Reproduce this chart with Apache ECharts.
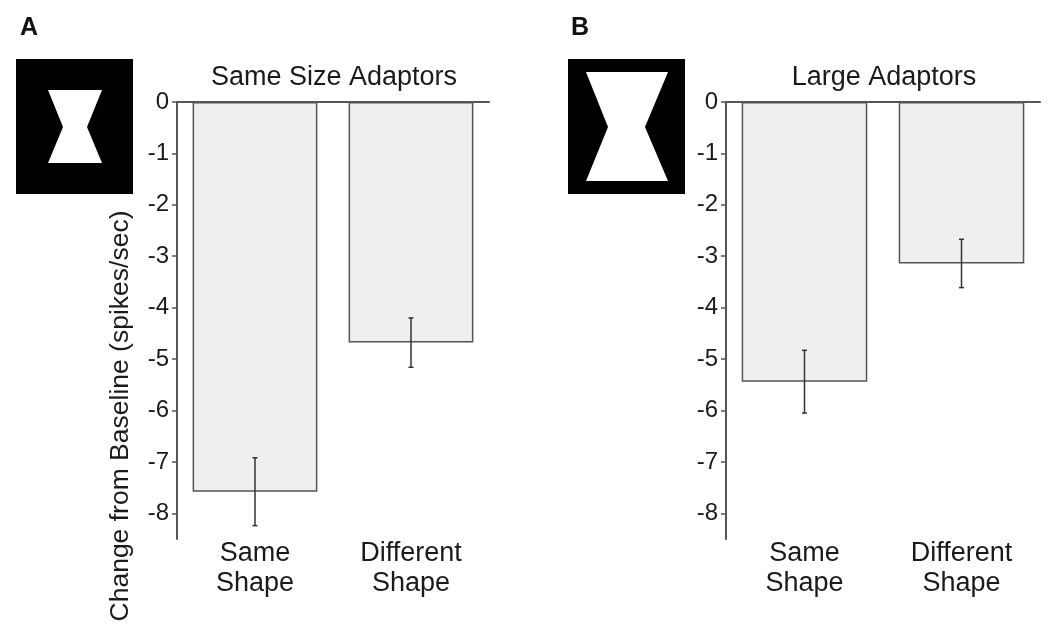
<!DOCTYPE html>
<html>
<head>
<meta charset="utf-8">
<script src="https://cdn.jsdelivr.net/npm/echarts@6/dist/echarts.min.js"></script>
<style>
  html, body { margin: 0; padding: 0; background: #fff; }
  #chart { width: 1050px; height: 633px; }
</style>
</head>
<body>
<div id="chart"></div>
<script>
// data
const categories = ['Same\nShape', 'Different\nShape'];
const panelTitles = ['Same Size Adaptors', 'Large Adaptors'];
const panelLetters = ['A', 'B'];
const sameSizeMeans = [-7.58, -4.68];
const sameSizeSem = [0.66, 0.48];
const largeMeans = [-5.44, -3.14];
const largeSem = [0.61, 0.47];
const yTicks = [0, -1, -2, -3, -4, -5, -6, -7, -8];
const yName = 'Change from Baseline (spikes/sec)';

const FONT = "'Liberation Sans', Arial, sans-serif";
const AXIS_COLOR = '#555';
const TEXT_COLOR = '#1a1a1a';

const grids = [
  { left: 177, top: 102, width: 312, height: 437 },
  { left: 726, top: 102, width: 314, height: 437 }
];

// 误差线
function errorItem(params, api) {
  const x = api.value(0);
  const lo = api.coord([x, api.value(1)]);
  const hi = api.coord([x, api.value(2)]);
  const cap = 2.5;
  const style = { stroke: '#333', lineWidth: 1.5 };
  return {
    type: 'group',
    children: [
      { type: 'line', shape: { x1: lo[0], y1: lo[1], x2: hi[0], y2: hi[1] }, style },
      { type: 'line', shape: { x1: lo[0] - cap, y1: lo[1], x2: lo[0] + cap, y2: lo[1] }, style },
      { type: 'line', shape: { x1: hi[0] - cap, y1: hi[1], x2: hi[0] + cap, y2: hi[1] }, style }
    ]
  };
}

function errData(means, sem) {
  return means.map((m, i) => [i, m - sem[i], m + sem[i]]);
}

const xAxes = [];
const yAxes = [];
const series = [];
const titles = [];
[[sameSizeMeans, sameSizeSem], [largeMeans, largeSem]].forEach(([means, sem], g) => {
  // labels at the bottom
  xAxes.push({
    type: 'category', gridIndex: g, data: categories, position: 'bottom',
    axisLine: { show: false }, axisTick: { show: false },
    axisLabel: { color: TEXT_COLOR, fontFamily: FONT, fontSize: 27, lineHeight: 30, margin: 0 }
  });
  // zero line at the top
  xAxes.push({
    type: 'category', gridIndex: g, data: categories, position: 'top',
    axisLine: { show: true, lineStyle: { color: AXIS_COLOR, width: 2 } },
    axisTick: { show: false }, axisLabel: { show: false }
  });
  yAxes.push({
    type: 'value', gridIndex: g, min: -8.5, max: 0,
    splitLine: { show: false },
    axisLine: { show: true, lineStyle: { color: AXIS_COLOR, width: 2 } },
    axisTick: { show: true, length: 5, customValues: yTicks, lineStyle: { color: AXIS_COLOR, width: 1.5 } },
    axisLabel: { customValues: yTicks, color: TEXT_COLOR, fontFamily: FONT, fontSize: 24, margin: 8 }
  });
  series.push({
    type: 'bar', xAxisIndex: g * 2, yAxisIndex: g, data: means, barWidth: '80%',
    itemStyle: { color: '#efefef', borderColor: AXIS_COLOR, borderWidth: 1.5 },
    silent: true
  });
  series.push({
    type: 'custom', xAxisIndex: g * 2, yAxisIndex: g, data: errData(means, sem),
    renderItem: errorItem, silent: true, z: 5
  });
  titles.push({
    text: panelTitles[g],
    left: grids[g].left + grids[g].width / 2 - 4, top: 59, textAlign: 'center',
    textStyle: { color: TEXT_COLOR, fontFamily: FONT, fontSize: 27, fontWeight: 'normal' }
  });
  titles.push({
    text: panelLetters[g], left: g === 0 ? 15 : 566, top: 11,
    textStyle: { color: '#111', fontFamily: FONT, fontSize: 25, fontWeight: 'bold' }
  });
});

// 刺激图标
function bowtie(x0, y0, w, h, topY, pinchY, botY, outerL, outerR, pinchL, pinchR) {
  return {
    type: 'group',
    children: [
      { type: 'rect', shape: { x: x0, y: y0, width: w, height: h }, style: { fill: '#000' } },
      {
        type: 'polygon',
        shape: { points: [[outerL, topY], [outerR, topY], [pinchR, pinchY], [outerR, botY], [outerL, botY], [pinchL, pinchY]] },
        style: { fill: '#fff' }
      }
    ]
  };
}

const option = {
  animation: false,
  backgroundColor: '#fff',
  title: titles,
  grid: grids,
  xAxis: xAxes,
  yAxis: yAxes,
  series: series,
  graphic: [
    bowtie(16, 59, 117, 135, 90, 127, 163, 48, 102, 63, 87),
    bowtie(568, 59, 117, 135, 72, 127, 181, 586, 668, 608, 645),
    {
      type: 'text', x: 121, y: 416, rotation: Math.PI / 2,
      style: { text: yName, fill: TEXT_COLOR, font: "26.5px 'Liberation Sans', Arial, sans-serif", align: 'center', verticalAlign: 'middle' }
    }
  ]
};

const chart = echarts.init(document.getElementById('chart'));
chart.setOption(option);
</script>
</body>
</html>
